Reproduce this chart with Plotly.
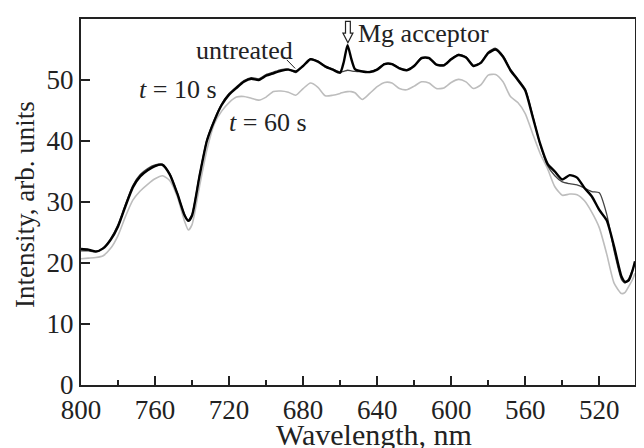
import plotly.graph_objects as go

wavelength = [800, 796, 792, 788, 784, 780, 776, 772, 768, 764, 760, 756, 752, 748, 744, 742, 740,
              736, 732, 728, 724, 720, 716, 712, 708, 704, 700, 696, 692, 688, 684, 680, 676, 672,
              668, 664, 660, 658, 656, 654, 652, 648, 644, 640, 636, 632, 628, 624, 620, 616, 612,
              608, 604, 600, 596, 592, 588, 584, 580, 576, 572, 568, 564, 560, 556, 552, 548, 544,
              540, 536, 532, 528, 524, 520, 516, 512, 508, 506, 504, 502, 500.7]

t10 = [22.3, 22.2, 21.9, 22.4, 23.8, 26.0, 29.3, 32.4, 34.2, 35.2, 35.9, 36.1, 34.5, 31.4, 27.8, 26.9, 27.8,
       34.2, 40.0, 43.3, 45.9, 47.6, 48.7, 49.7, 50.2, 50.0, 50.7, 51.1, 51.5, 51.7, 51.4, 52.3, 53.4, 53.0,
       52.2, 51.7, 51.2, 53.0, 55.7, 53.5, 51.8, 51.4, 51.3, 51.7, 52.6, 52.6, 51.9, 51.6, 52.3, 53.6, 53.6,
       52.5, 52.4, 53.4, 54.1, 53.7, 52.3, 52.8, 54.4, 55.0, 53.8, 51.6, 50.0, 48.3, 44.0, 39.6, 36.3, 35.0,
       33.7, 34.4, 34.0, 32.3, 30.9, 28.7, 27.0, 22.7, 17.8, 16.9, 17.2, 18.8, 20.3]

untreated = [22.0, 22.0, 21.8, 22.5, 24.0, 26.3, 29.6, 32.7, 34.5, 35.5, 36.1, 36.2, 34.6, 31.5, 27.9, 27.0, 28.0,
             34.4, 40.2, 43.5, 46.1, 47.8, 48.9, 49.9, 50.4, 50.2, 50.9, 51.3, 51.7, 51.8, 51.2, 52.4, 53.5, 53.1,
             52.3, 51.8, 51.3, 51.4, 51.6, 51.5, 51.4, 51.4, 51.4, 51.8, 52.7, 52.7, 52.0, 51.7, 52.4, 53.7, 53.7,
             52.6, 52.5, 53.5, 54.2, 53.8, 52.4, 52.9, 54.6, 55.2, 54.0, 51.8, 50.2, 48.5, 44.2, 39.5, 36.0, 34.3,
             33.3, 33.0, 32.8, 32.3, 31.7, 31.5, 28.0, 22.0, 17.3, 16.7, 17.5, 18.9, 20.0]

t60 = [20.7, 20.8, 20.9, 21.2, 22.4, 24.5, 27.6, 30.3, 31.8, 32.9, 33.8, 34.3, 33.5, 30.9, 26.8, 25.4, 26.3,
       32.5, 38.5, 42.8, 44.9, 46.3, 47.2, 47.3, 47.0, 46.7, 47.2, 48.1, 48.2, 48.0, 47.5, 48.6, 49.5, 48.8,
       47.4, 47.5, 47.8, 48.0, 48.1, 48.1, 47.9, 46.8, 47.8, 48.9, 49.6, 49.5, 48.6, 48.4, 49.0, 49.7, 49.5,
       48.6, 48.7, 49.6, 50.1, 49.7, 48.6, 49.2, 50.8, 50.9, 49.7, 47.3, 46.3, 44.5, 41.2, 38.0, 35.5, 32.5,
       31.1, 31.3, 31.2, 30.2, 28.3, 25.8, 21.5, 16.7, 15.0, 15.2, 16.2, 17.3, 18.3]

x_ticks = [800, 760, 720, 680, 640, 600, 560, 520]
y_ticks = [0, 10, 20, 30, 40, 50, 60]

FONT = "Liberation Serif"
FS = 26
TICK_FS = 27
INK = "#222222"

fig = go.Figure()
fig.add_trace(go.Scatter(x=wavelength, y=t60, mode="lines", name="t = 60 s",
                         line=dict(color="#bdbdbd", width=1.6, shape="spline", smoothing=0.6)))
fig.add_trace(go.Scatter(x=wavelength, y=untreated, mode="lines", name="untreated",
                         line=dict(color="#444444", width=1.3, shape="spline", smoothing=0.6)))
fig.add_trace(go.Scatter(x=wavelength, y=t10, mode="lines", name="t = 10 s",
                         line=dict(color="#000000", width=2.4, shape="spline", smoothing=0.6)))

# hollow arrow marking the Mg acceptor peak
fig.add_shape(type="path", xref="x", yref="y",
              path="M 657.1,59.6 L 657.1,57.7 L 658.5,57.7 L 655.8,56.1 L 653.1,57.7 L 654.5,57.7 L 654.5,59.6 Z",
              line=dict(color=INK, width=1.2), fillcolor="white")
# pointer line for "untreated"
fig.add_shape(type="line", xref="x", yref="y", x0=688.8, y0=53.3, x1=684.3, y1=51.9,
              line=dict(color=INK, width=1))

annots = [
    dict(x=711.9, y=54.9, text="untreated"),
    dict(x=747.6, y=48.4, text="<i>t</i> = 10 s"),
    dict(x=698.9, y=43.0, text="<i>t</i> = 60 s"),
    dict(x=615.1, y=57.7, text="Mg acceptor"),
]
for a in annots:
    fig.add_annotation(x=a["x"], y=a["y"], text=a["text"], showarrow=False, xref="x", yref="y",
                       xanchor="center", yanchor="middle",
                       font=dict(family=FONT, size=FS, color=INK))

# axis titles
fig.add_annotation(x=0.529, y=-0.134, xref="paper", yref="paper", text="Wavelength, nm",
                   xanchor="center", yanchor="middle",
                   showarrow=False, font=dict(family=FONT, size=30, color=INK))
fig.add_annotation(x=-0.101, y=0.492, xref="paper", yref="paper", text="Intensity, arb. units",
                   xanchor="center", yanchor="middle",
                   textangle=-90, showarrow=False, font=dict(family=FONT, size=27, color=INK))

fig.update_layout(
    width=636, height=440,
    margin=dict(l=73, r=9, t=11, b=63, autoexpand=False),
    paper_bgcolor="white", plot_bgcolor="white",
    showlegend=False,
    font=dict(family=FONT, size=FS, color=INK),
)
fig.update_xaxes(range=[800, 500.7], tickvals=x_ticks, ticks="inside", ticklen=9, tickwidth=1.5,
                 tickcolor=INK, showline=True, linecolor=INK, linewidth=2, mirror=True,
                 showgrid=False, zeroline=False, automargin=False,
                 minor=dict(ticks="inside", ticklen=5, tickwidth=1.5, tickcolor=INK, dtick=20, tick0=0),
                 tickfont=dict(family=FONT, size=TICK_FS))
fig.update_yaxes(range=[0, 60], tickvals=y_ticks, ticks="inside", ticklen=9, tickwidth=1.5,
                 tickcolor=INK, showline=True, linecolor=INK, linewidth=2, mirror=True,
                 showgrid=False, zeroline=False, automargin=False,
                 tickfont=dict(family=FONT, size=TICK_FS))

fig.write_html("out.html")
